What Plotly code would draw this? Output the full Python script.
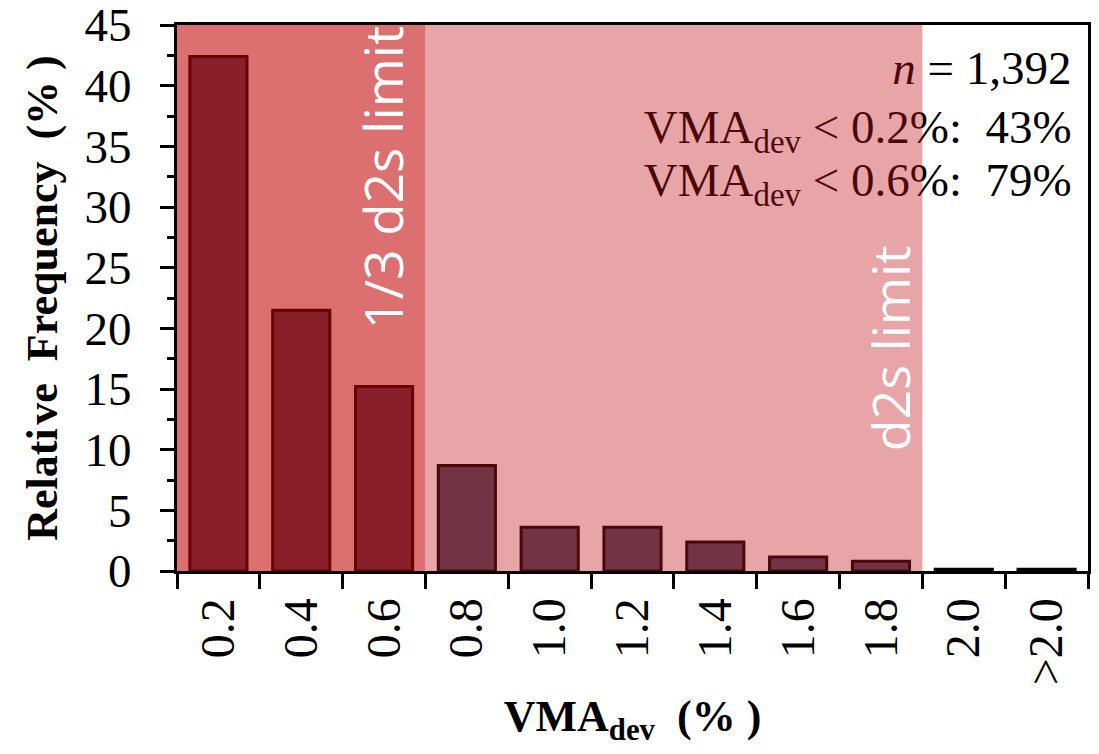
import plotly.graph_objects as go

categories = ["0.2", "0.4", "0.6", "0.8", "1.0", "1.2", "1.4", "1.6", "1.8", "2.0", ">2.0"]
rel_freq = [42.4, 21.5, 15.2, 8.7, 3.6, 3.6, 2.4, 1.15, 0.8, 0.15, 0.15]
y_ticks = list(range(0, 50, 5))
stats_lines = ["<i>n</i> = 1,392",
               "VMA<sub>dev</sub> < 0.2%:  43%",
               "VMA<sub>dev</sub> < 0.6%:  79%"]
stats_y = [0.914, 0.806, 0.708]
third_limit_cat = "0.6"
d2s_limit_cat = "1.8"

serif = "Liberation Serif, Times New Roman, serif"
n = len(categories)
i_third = categories.index(third_limit_cat) + 0.5
i_d2s = categories.index(d2s_limit_cat) + 0.5

fig = go.Figure()
fig.add_trace(go.Bar(x=categories, y=rel_freq, marker=dict(color="#40485E", line=dict(color="black", width=3)),
                     xaxis="x", yaxis="y", showlegend=False))
# stats text drawn as trace so the above-shapes tint it
fig.add_trace(go.Scatter(x=[0.982] * 3, y=stats_y, mode="text", text=stats_lines,
                         textposition="middle left", textfont=dict(family=serif, size=47, color="black"),
                         xaxis="x3", yaxis="y3", showlegend=False, hoverinfo="skip"))

fig.update_layout(
    width=1099, height=754,
    margin=dict(l=169, r=19, t=17, b=191),
    plot_bgcolor="white", paper_bgcolor="white",
    bargap=0.31,
    font=dict(family=serif, size=46, color="black"),
    xaxis=dict(type="category", categoryarray=categories, range=[-0.5, n - 0.5], automargin=False,
               tickson="boundaries", ticks="outside", ticklen=15, tickwidth=3, tickcolor="black",
               tickangle=-90, showline=True, linewidth=3, linecolor="black", mirror=True,
               showgrid=False, tickfont=dict(size=48), ticklabelstandoff=5, ticklabeloverflow="allow",
               title=dict(text="<b>VMA<sub>dev</sub>  (% )</b>", font=dict(size=44), standoff=16)),
    yaxis=dict(range=[0, 45], tickvals=y_ticks, ticks="outside", ticklen=14, tickwidth=3, tickcolor="black",
               showline=True, linewidth=3, linecolor="black", mirror=True, showgrid=False, zeroline=False,
               automargin=False, ticklabeloverflow="allow",
               minor=dict(dtick=2.5, ticks="outside", ticklen=7, tickwidth=3, tickcolor="black"),
               ticklabelstandoff=19, tickfont=dict(size=47),
               title=dict(text="<b>Relati\u200ave  Frequency  (% )</b>", font=dict(size=44), standoff=14)),
    xaxis2=dict(overlaying="x", range=[-0.5, n - 0.5], tickvals=[i - 0.5 for i in range(n + 1)],
                ticks="inside", ticklen=14, tickwidth=3, tickcolor="black", showticklabels=False,
                showgrid=False, zeroline=False, showline=False, automargin=False),
    yaxis2=dict(overlaying="y", range=[0, 45], tickvals=y_ticks, ticks="inside", ticklen=13, tickwidth=3,
                tickcolor="black", showticklabels=False, showgrid=False, zeroline=False, showline=False,
                automargin=False),
    xaxis3=dict(overlaying="x", range=[0, 1], visible=False),
    yaxis3=dict(overlaying="y", range=[0, 1], visible=False),
)

fig.add_shape(type="rect", xref="x", yref="y", x0=-0.5, x1=i_third, y0=0, y1=45, layer="above",
              line=dict(width=0), fillcolor="rgb(192,0,0)", opacity=0.56)
fig.add_shape(type="rect", xref="x", yref="y", x0=i_third, x1=i_d2s, y0=0, y1=45, layer="above",
              line=dict(width=0), fillcolor="rgb(195,21,26)", opacity=0.384)

fig.add_annotation(x=i_third - 0.53, y=(571 - 178) / 546, xref="x", yref="paper",
                   text="1/3 d2s limit", textangle=-90, showarrow=False, xanchor="center", yanchor="middle",
                   font=dict(family="Open Sans", size=53, color="white"))
fig.add_annotation(x=i_d2s - 0.4, y=(571 - 348) / 546, xref="x", yref="paper",
                   text="d2s limit", textangle=-90, showarrow=False, xanchor="center", yanchor="middle",
                   font=dict(family="Open Sans", size=52, color="white"))

fig.write_html("out.html")
